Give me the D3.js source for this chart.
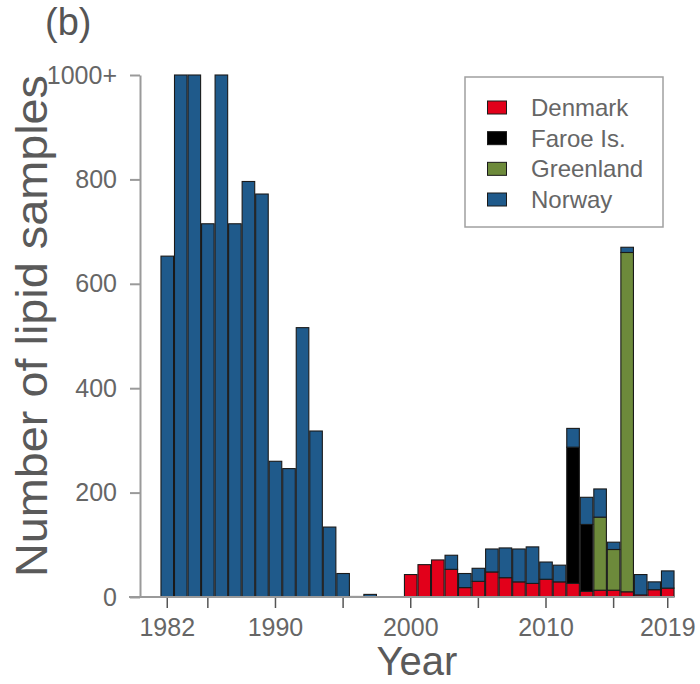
<!DOCTYPE html>
<html>
<head>
<meta charset="utf-8">
<script src="https://cdn.jsdelivr.net/npm/d3@7"></script>
<style>
  html, body { margin: 0; padding: 0; background: #fff; }
  svg { display: block; }
  text { font-family: "Liberation Sans", Arial, Helvetica, sans-serif; }
</style>
</head>
<body>
<svg id="chart" width="700" height="684"></svg>
<script>
// ---------------- data ----------------
const years = d3.range(1982, 2020);
const countries = ["Denmark", "Faroe Is.", "Greenland", "Norway"];
const denmark = [0,0,0,0,0,0,0,0,0,0,0,0,0,0,0,0,0,0,
  43,62,71,53,18,30,48,37,29,26,34,29,26,11,13,13,10,4,14,17];
const faroe = [0,0,0,0,0,0,0,0,0,0,0,0,0,0,0,0,0,0,
  0,0,0,0,0,0,0,0,0,0,0,0,261,128,0,0,0,0,0,0];
const greenland = [0,0,0,0,0,0,0,0,0,0,0,0,0,0,0,0,0,0,
  0,0,0,0,0,0,0,0,0,0,0,0,0,0,140,78,650,0,0,0];
const norway = [653,1000,1000,715,1000,715,796,772,260,246,516,318,134,45,1,5,0,0,
  0,0,0,27,27,25,44,57,63,70,33,32,36,52,54,14,10,39,15,33];
const yTickValues = [0, 200, 400, 600, 800, 1000];
const yTickLabels = ["0", "200", "400", "600", "800", "1000+"];
const xTickValues = [1982, 1985, 1990, 1995, 2000, 2005, 2010, 2015, 2019];
const xLabelled = [1982, 1990, 2000, 2010, 2019];
const colors = ["#e2001a", "#000000", "#6d8a3b", "#1f5a8b"];

// ---------------- build table ----------------
const seriesArrays = [denmark, faroe, greenland, norway];
const table = years.map((yr, i) => {
  const row = { year: yr };
  countries.forEach((c, k) => row[c] = seriesArrays[k][i]);
  return row;
});
const stacked = d3.stack().keys(countries)(table);

// ---------------- scales ----------------
const svg = d3.select("#chart");
const axisColor = "#9a9a9a";
const labelColor = "#666666";

const x = d3.scaleBand().domain(years).range([160.5, 674.5])
  .paddingInner(0.07).paddingOuter(0.035);
const y = d3.scaleLinear().domain([0, 1000]).range([597, 75]);
const color = d3.scaleOrdinal().domain(countries).range(colors);

// ---------------- bars ----------------
const gBars = svg.append("g");
gBars.selectAll("g.layer").data(stacked).enter().append("g")
  .attr("class", "layer")
  .attr("fill", d => color(d.key))
  .selectAll("rect")
  .data(d => d.filter(s => s[1] - s[0] > 0))
  .enter().append("rect")
  .attr("x", d => x(d.data.year))
  .attr("width", x.bandwidth())
  .attr("y", d => y(Math.min(d[1], 1000)))
  .attr("height", d => Math.max(0.5, y(d[0]) - y(Math.min(d[1], 1000))))
  .attr("stroke", "#1a1a1a")
  .attr("stroke-width", 1.1);

// ---------------- axes ----------------
const yAxis = d3.axisLeft(y).tickValues(yTickValues)
  .tickFormat((d, i) => yTickLabels[i])
  .tickSizeInner(10).tickSizeOuter(0).tickPadding(13);
const gy = svg.append("g").attr("transform", "translate(140,0)").call(yAxis);
gy.select(".domain").attr("stroke", axisColor).attr("stroke-width", 2);
gy.selectAll(".tick line").attr("stroke", axisColor).attr("stroke-width", 2);
gy.selectAll(".tick text").attr("fill", labelColor).attr("font-size", 25);

const xAxis = d3.axisBottom(x).tickValues(xTickValues)
  .tickFormat(d => xLabelled.includes(d) ? String(d) : "")
  .tickSizeInner(11).tickSizeOuter(0).tickPadding(10);
const gx = svg.append("g").attr("transform", "translate(0,597)").call(xAxis);
gx.select(".domain").remove();
gx.append("line").attr("x1", 129).attr("x2", 674)
  .attr("stroke", axisColor).attr("stroke-width", 2);
gx.selectAll(".tick line").attr("stroke", "#555").attr("stroke-width", 1.5);
gx.selectAll(".tick text").attr("fill", labelColor).attr("font-size", 25);

// ---------------- titles ----------------
svg.append("text").attr("x", 45).attr("y", 35)
  .attr("font-size", 38).attr("fill", "#555").text("(b)");
svg.append("text")
  .attr("transform", "translate(47,326) rotate(-90)")
  .attr("text-anchor", "middle").attr("font-size", 45).attr("fill", "#5a5a5a")
  .attr("textLength", 502).attr("lengthAdjust", "spacingAndGlyphs")
  .text("Number of lipid samples");
svg.append("text").attr("x", 417).attr("y", 675)
  .attr("text-anchor", "middle").attr("font-size", 40).attr("fill", "#5a5a5a")
  .text("Year");

// ---------------- legend ----------------
const legend = svg.append("g");
legend.append("rect").attr("x", 465).attr("y", 77).attr("width", 198).attr("height", 150)
  .attr("fill", "#fff").attr("stroke", "#a0a0a0").attr("stroke-width", 1.5);
const rowY = d3.scalePoint().domain(countries).range([107.5, 199.5]);
const items = legend.selectAll("g.item").data(countries).enter().append("g")
  .attr("class", "item")
  .attr("transform", d => `translate(0,${rowY(d)})`);
items.append("rect").attr("x", 487.5).attr("y", -6.5).attr("width", 19).attr("height", 13)
  .attr("fill", d => color(d)).attr("stroke", "#1a1a1a").attr("stroke-width", 1);
items.append("text").attr("x", 531).attr("y", 0).attr("dy", "0.36em")
  .attr("font-size", 24).attr("fill", labelColor).text(d => d);
</script>
</body>
</html>
